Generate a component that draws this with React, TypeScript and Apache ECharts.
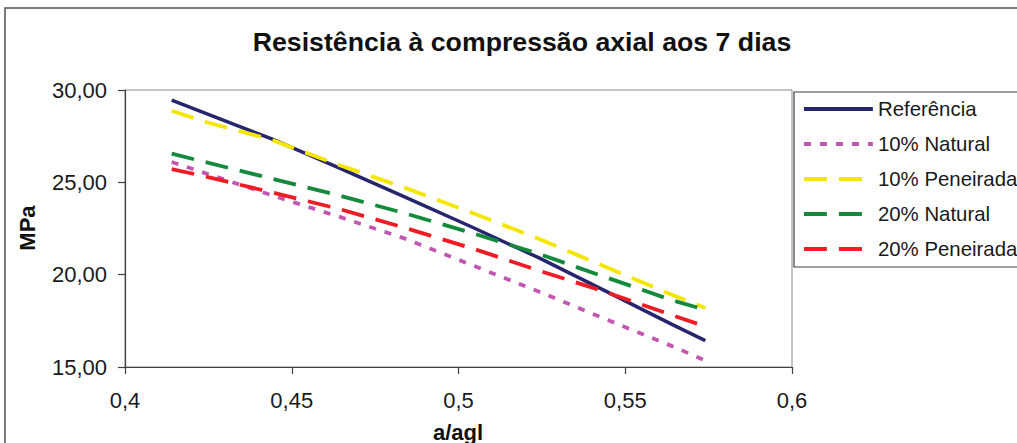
import React, { useEffect, useRef } from "react";
import * as echarts from "echarts";

const xValues = [0.414, 0.424, 0.444, 0.464, 0.484, 0.504, 0.524, 0.544, 0.564, 0.574];
const referencia = [29.45, 28.75, 27.35, 25.8, 24.2, 22.58, 20.92, 19.12, 17.31, 16.43];
const natural10 = [26.1, 25.5, 24.3, 23.15, 21.95, 20.52, 19.09, 17.6, 16.13, 15.35];
const peneirada10 = [28.88, 28.28, 27.3, 25.95, 24.7, 23.35, 21.95, 20.43, 18.91, 18.2];
const natural20 = [26.55, 26.1, 25.2, 24.3, 23.32, 22.26, 21.13, 19.87, 18.62, 18.1];
const peneirada20 = [25.72, 25.32, 24.46, 23.57, 22.53, 21.43, 20.23, 19.07, 17.81, 17.2];

const seriesNames = ["Referência", "10% Natural", "10% Peneirada", "20% Natural", "20% Peneirada"];
const titleText = "Resistência à compressão axial aos 7 dias";
const xTitle = "a/agl";
const yTitle = "MPa";

const FONT = "'Liberation Sans', Arial, sans-serif";

export default function App() {
  const ref = useRef<HTMLDivElement>(null);
  useEffect(() => {
    if (!ref.current) return;
    const chart = echarts.init(ref.current, null, { renderer: "svg" });
    const pairs = (arr: number[]) => xValues.map((x, i) => [x, arr[i]]);
    const mk = (name: string, arr: number[], color: string, width: number, type: any) => ({
      name,
      type: "line",
      data: pairs(arr),
      symbol: "none",
      showSymbol: false,
      lineStyle: { color, width, type, cap: "butt" },
      itemStyle: { color },
    });
    chart.setOption({
      animation: false,
      backgroundColor: "#ffffff",
      grid: {
        left: 125,
        top: 90,
        width: 667,
        height: 277,
        show: true,
        borderColor: "#8a8a8a",
        borderWidth: 1,
        backgroundColor: "transparent",
      },
      xAxis: {
        type: "value",
        min: 0.4,
        max: 0.6,
        interval: 0.05,
        axisLine: { show: true, onZero: false, lineStyle: { color: "#404040", width: 1.2 } },
        axisTick: { show: true, inside: false, length: 7, lineStyle: { color: "#404040", width: 1.2 } },
        splitLine: { show: false },
        axisLabel: {
          margin: 22,
          fontSize: 22,
          fontFamily: FONT,
          color: "#1a1a1a",
          formatter: (v: number) => String(parseFloat(v.toFixed(2))).replace(".", ","),
        },
      },
      yAxis: {
        type: "value",
        min: 15,
        max: 30,
        interval: 5,
        axisLine: { show: true, onZero: false, lineStyle: { color: "#404040", width: 1.2 } },
        axisTick: { show: true, inside: false, length: 7, lineStyle: { color: "#404040", width: 1.2 } },
        splitLine: { show: false },
        axisLabel: {
          margin: 18,
          fontSize: 22,
          fontFamily: FONT,
          color: "#1a1a1a",
          formatter: (v: number) => v.toFixed(2).replace(".", ","),
        },
      },
      legend: {
        data: seriesNames,
        orient: "vertical",
        left: 794,
        top: 92,
        padding: [5, 20, 6, 8],
        itemWidth: 69,
        itemHeight: 14,
        itemGap: 11,
        borderColor: "#404040",
        borderWidth: 1.2,
        backgroundColor: "#ffffff",
        itemStyle: { opacity: 0 },
        lineStyle: { width: 3.8 },
        textStyle: { fontSize: 20.4, lineHeight: 24, fontFamily: FONT, color: "#1a1a1a" },
      },
      graphic: [
        {
          type: "rect",
          silent: true,
          shape: { x: 5, y: 8, width: 1200, height: 1000 },
          style: { fill: "none", stroke: "#505050", lineWidth: 1.5 },
        },
        {
          type: "text",
          x: 522,
          y: 42,
          style: {
            text: titleText,
            align: "center",
            verticalAlign: "middle",
            font: `bold 26.7px ${FONT}`,
            fill: "#111111",
          },
        },
        {
          type: "text",
          x: 458,
          y: 432,
          style: {
            text: xTitle,
            align: "center",
            verticalAlign: "middle",
            font: `bold 22px ${FONT}`,
            fill: "#111111",
          },
        },
        {
          type: "text",
          x: 27,
          y: 228,
          rotation: Math.PI / 2,
          style: {
            text: yTitle,
            align: "center",
            verticalAlign: "middle",
            font: `bold 22px ${FONT}`,
            fill: "#111111",
          },
        },
      ],
      series: [
        mk(seriesNames[0], referencia, "#26266f", 3.5, "solid"),
        mk(seriesNames[1], natural10, "#c257b2", 3.8, [7, 9]),
        mk(seriesNames[2], peneirada10, "#f4e600", 3.8, [23, 12]),
        mk(seriesNames[3], natural20, "#148a3c", 3.8, [23, 12]),
        mk(seriesNames[4], peneirada20, "#ee1c24", 3.8, [23, 12]),
      ],
    });
    return () => chart.dispose();
  }, []);
  return (
    <div
      ref={ref}
      style={{ position: "absolute", left: 0, top: 0, width: 1017, height: 443 }}
    />
  );
}
